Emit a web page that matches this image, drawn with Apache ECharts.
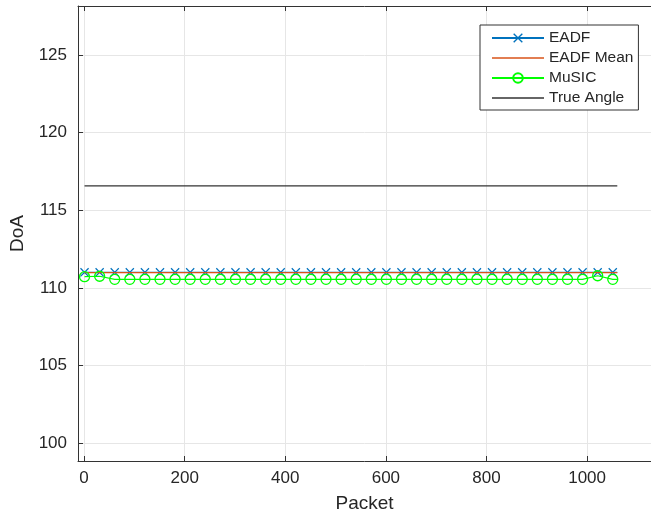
<!DOCTYPE html>
<html><head><meta charset="utf-8">
<script src="https://cdn.jsdelivr.net/npm/echarts@6/dist/echarts.min.js"></script>
<style>html,body{margin:0;padding:0;background:#fff}#c{width:651px;height:518px}</style>
</head><body><div id="c"></div>
<script>
// Marker positions (packet index) — final entry is the line end without a marker
const packets = [1,31,61,91,121,151,181,211,241,271,301,331,361,391,421,451,481,511,541,571,601,631,661,691,721,751,781,811,841,871,901,931,961,991,1021,1051,1060];
const eadf = [111.0,111.0,111.0,111.0,111.0,111.0,111.0,111.0,111.0,111.0,111.0,111.0,111.0,111.0,111.0,111.0,111.0,111.0,111.0,111.0,111.0,111.0,111.0,111.0,111.0,111.0,111.0,111.0,111.0,111.0,111.0,111.0,111.0,111.0,111.0,111.0,111.0];
const music = [110.72,110.75,110.55,110.55,110.55,110.55,110.55,110.55,110.55,110.55,110.55,110.55,110.55,110.55,110.55,110.55,110.55,110.55,110.55,110.55,110.55,110.55,110.55,110.55,110.55,110.55,110.55,110.55,110.55,110.55,110.55,110.55,110.55,110.55,110.78,110.55,110.55];
const meanPackets = [1, 1060];
const eadfMean = [110.98, 110.98];
const truePackets = [1, 1060];
const trueAngle = [116.57, 116.57];
const seriesNames = ['EADF','EADF Mean','MuSIC','True Angle'];
const xLabel = 'Packet';
const yLabel = 'DoA';

const FONT = '"Liberation Sans", Arial, Helvetica, sans-serif';
const TXT = '#262626';
const AX = '#333333';
const GRID = '#e6e6e6';
const X_PATH = 'path://M0,1 L1,0 L5,4 L9,0 L10,1 L6,5 L10,9 L9,10 L5,6 L1,10 L0,9 L4,5 Z';
const LINE_ICON = 'path://M0,0 L52,0 L52,1.3 L0,1.3 Z';

function pts(xs, ys) {
  return xs.map((x, i) => {
    const item = { value: [x, ys[i]] };
    if (i === xs.length - 1) item.symbol = 'none';
    return item;
  });
}
const fmt = v => String(v);

const chart = echarts.init(document.getElementById('c'), null, { renderer: 'canvas' });
chart.setOption({
  animation: false,
  backgroundColor: '#fff',
  textStyle: { fontFamily: FONT },
  grid: { left: 78, top: 6, right: 0, bottom: 56, containLabel: false },
  legend: {
    left: 480, top: 25, orient: 'vertical', align: 'left',
    itemWidth: 52, itemHeight: 12, itemGap: 4,
    padding: [5, 5, 4, 11],
    borderColor: AX, borderWidth: 1, backgroundColor: '#fff',
    textStyle: { fontFamily: FONT, fontSize: 15.5, color: TXT, lineHeight: 16 },
    data: [
      { name: seriesNames[0] },
      { name: seriesNames[1], icon: LINE_ICON },
      { name: seriesNames[2] },
      { name: seriesNames[3], icon: LINE_ICON }
    ]
  },
  xAxis: [{
    type: 'value', min: -12, max: 1127, position: 'bottom',
    name: xLabel, nameLocation: 'middle', nameGap: 33,
    nameTextStyle: { fontFamily: FONT, fontSize: 19, color: TXT },
    axisLine: { show: true, onZero: false, lineStyle: { color: AX, width: 1 } },
    axisTick: { show: true, inside: true, length: 5, lineStyle: { color: AX } },
    axisLabel: { fontFamily: FONT, fontSize: 17, color: TXT, margin: 9, showMinLabel: false, showMaxLabel: false, formatter: fmt },
    splitLine: { show: true, lineStyle: { color: GRID, width: 1 } }
  }, {
    type: 'value', min: -12, max: 1127, position: 'top',
    axisLine: { show: true, onZero: false, lineStyle: { color: AX, width: 1 } },
    axisTick: { show: true, inside: true, length: 5, lineStyle: { color: AX } },
    axisLabel: { show: false },
    splitLine: { show: false }
  }],
  yAxis: [{
    type: 'value', min: 98.84, max: 128.17, position: 'left',
    name: yLabel, nameLocation: 'middle', nameGap: 42,
    nameTextStyle: { fontFamily: FONT, fontSize: 19, color: TXT },
    axisLine: { show: true, onZero: false, lineStyle: { color: AX, width: 1 } },
    axisTick: { show: true, inside: true, length: 5, lineStyle: { color: AX } },
    axisLabel: { fontFamily: FONT, fontSize: 17, color: TXT, margin: 11, showMinLabel: false, showMaxLabel: false, formatter: fmt },
    splitLine: { show: true, lineStyle: { color: GRID, width: 1 } }
  }],
  series: [{
    name: seriesNames[0], type: 'line', xAxisIndex: 0, yAxisIndex: 0,
    data: pts(packets, eadf),
    symbol: X_PATH, symbolSize: 9, showAllSymbol: true,
    lineStyle: { color: '#0072BD', width: 1.2 },
    itemStyle: { color: '#0072BD' },
    z: 2
  }, {
    name: seriesNames[1], type: 'line', xAxisIndex: 0, yAxisIndex: 0,
    data: meanPackets.map((x, i) => [x, eadfMean[i]]),
    symbol: 'none',
    lineStyle: { color: '#D95319', width: 1.2 },
    itemStyle: { color: '#D95319' },
    z: 3
  }, {
    name: seriesNames[2], type: 'line', xAxisIndex: 0, yAxisIndex: 0,
    data: pts(packets, music),
    symbol: 'circle', symbolSize: 10, showAllSymbol: true,
    lineStyle: { color: '#00FF00', width: 1.2 },
    itemStyle: { color: 'rgba(0,0,0,0)', borderColor: '#00FF00', borderWidth: 1.3 },
    z: 4
  }, {
    name: seriesNames[3], type: 'line', xAxisIndex: 0, yAxisIndex: 0,
    data: truePackets.map((x, i) => [x, trueAngle[i]]),
    symbol: 'none',
    lineStyle: { color: '#333333', width: 1.2 },
    itemStyle: { color: '#333333' },
    z: 5
  }]
});
</script>
</body></html>
